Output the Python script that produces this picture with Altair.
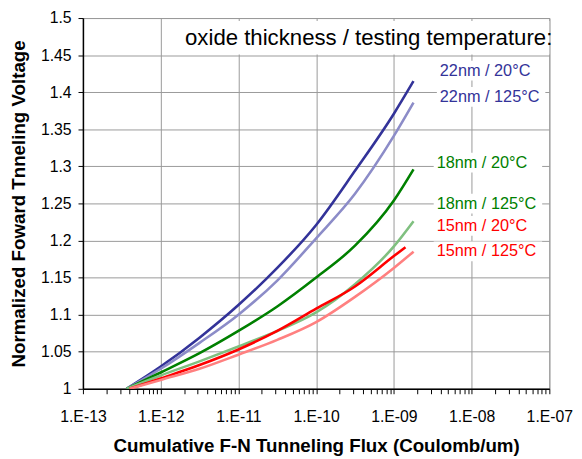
import altair as alt
import pandas as pd

series_names = ["22nm / 20°C", "22nm / 125°C", "18nm / 20°C", "18nm / 125°C", "15nm / 20°C", "15nm / 125°C"]
series_colors = ["#333399", "#8c8cc8", "#008000", "#80c080", "#ff0000", "#ff8080"]
label_colors = ["#333399", "#333399", "#008000", "#008000", "#ff0000", "#ff0000"]

flux_22_20 = [3.63e-13, 1e-12, 3.16e-12, 1e-11, 3.16e-11, 1e-10, 3.16e-10, 1e-9, 1.79e-9]
volt_22_20 = [1.0, 1.030, 1.069, 1.113, 1.163, 1.221, 1.294, 1.371, 1.415]

flux_22_125 = [3.63e-13, 1e-12, 3.16e-12, 1e-11, 3.16e-11, 1e-10, 3.16e-10, 1e-9, 1.79e-9]
volt_22_125 = [1.0, 1.027, 1.062, 1.100, 1.146, 1.203, 1.263, 1.341, 1.386]

flux_18_20 = [3.63e-13, 1e-12, 3.16e-12, 1e-11, 3.16e-11, 1e-10, 3.16e-10, 1e-9, 1.79e-9]
volt_18_20 = [1.0, 1.022, 1.048, 1.078, 1.111, 1.150, 1.193, 1.254, 1.296]

flux_18_125 = [3.63e-13, 1e-12, 3.16e-12, 1e-11, 3.16e-11, 1e-10, 3.16e-10, 1e-9, 1.79e-9]
volt_18_125 = [1.0, 1.018, 1.037, 1.057, 1.078, 1.103, 1.141, 1.192, 1.226]

flux_15_20 = [3.98e-13, 1e-12, 3.16e-12, 1e-11, 3.16e-11, 1e-10, 3.16e-10, 1e-9, 1.41e-9]
volt_15_20 = [1.0, 1.014, 1.032, 1.053, 1.078, 1.108, 1.138, 1.179, 1.191]

flux_15_125 = [3.98e-13, 1e-12, 3.16e-12, 1e-11, 3.16e-11, 1e-10, 3.16e-10, 1e-9, 1.79e-9]
volt_15_125 = [1.0, 1.012, 1.027, 1.046, 1.066, 1.090, 1.124, 1.163, 1.185]

label_flux = [3.9e-9, 3.9e-9, 3.55e-9, 3.55e-9, 3.55e-9, 3.55e-9]
label_volt = [1.4291, 1.3936, 1.3049, 1.2496, 1.2198, 1.1852]

header_text = "oxide thickness / testing temperature:"
header_flux = 1e-7
header_volt = 1.4734

y_ticks = [1.0, 1.05, 1.1, 1.15, 1.2, 1.25, 1.3, 1.35, 1.4, 1.45, 1.5]
x_ticks = [m * 10.0 ** e for e in range(-13, -7) for m in range(1, 10)] + [1e-7]

all_flux = [flux_22_20, flux_22_125, flux_18_20, flux_18_125, flux_15_20, flux_15_125]
all_volt = [volt_22_20, volt_22_125, volt_18_20, volt_18_125, volt_15_20, volt_15_125]

rows = []
for name, xs, ys in zip(series_names, all_flux, all_volt):
    for i, (a, b) in enumerate(zip(xs, ys)):
        rows.append({"series": name, "flux": a, "volt": b, "order": i})
df = pd.DataFrame(rows)

labels_df = pd.DataFrame({"label": series_names, "flux": label_flux, "volt": label_volt})
header_df = pd.DataFrame({"text": [header_text], "flux": [header_flux], "volt": [header_volt]})

FONT = "Liberation Sans"
is_decade = "abs(log(datum.value)/LN10 - round(log(datum.value)/LN10)) < 0.001"
label_expr = (
    "(" + is_decade + ") ? '1.E-' + (-round(log(datum.value)/LN10) < 10 ? '0' : '') + "
    "(-round(log(datum.value)/LN10)) : ''"
)

xscale = alt.Scale(type="log", domain=[1e-13, 1e-7], nice=False)
yscale = alt.Scale(domain=[1.0, 1.5], nice=False)
color = alt.Color("series:N", scale=alt.Scale(domain=series_names, range=series_colors), legend=None)
label_color = alt.Color("label:N", scale=alt.Scale(domain=series_names, range=label_colors), legend=None)

x_axis = alt.Axis(
    values=x_ticks,
    labelExpr=label_expr,
    labelOverlap=False,
    labelFlush=False,
    gridOpacity={"condition": {"test": is_decade, "value": 1}, "value": 0},
    gridColor="#999999",
    domainColor="#000000",
    domainWidth=1.5,
    tickColor="#000000",
    tickSize=5,
    labelFontSize=16,
    labelFont=FONT,
    labelColor="#000000",
    labelPadding=15,
    title="Cumulative F-N Tunneling Flux (Coulomb/um)",
    titleFont=FONT,
    titleFontSize=19,
    titleFontWeight="bold",
    titleColor="#000000",
    titlePadding=13,
)
y_axis = alt.Axis(
    values=y_ticks,
    labelExpr="format(datum.value, '.2~f')",
    labelOverlap=False,
    labelFlush=False,
    labelBound=False,
    gridColor="#999999",
    domainColor="#000000",
    domainWidth=1.5,
    tickColor="#000000",
    tickSize=5,
    labelFontSize=16,
    labelFont=FONT,
    labelColor="#000000",
    labelPadding=7,
    title="Normalized Foward Tnneling Voltage",
    titleFont=FONT,
    titleFontSize=19,
    titleFontWeight="bold",
    titleColor="#000000",
    titlePadding=12,
)

X = alt.X("flux:Q", scale=xscale, axis=x_axis)
Y = alt.Y("volt:Q", scale=yscale, axis=y_axis)

lines = alt.Chart(df).mark_line(strokeWidth=2.6, interpolate="monotone", clip=True).encode(
    x=X, y=Y, color=color, detail="series:N", order="order:Q",
)

label_bg = alt.Chart(labels_df).mark_rect(width=110, height=20, xOffset=52, color="white").encode(x=X, y=Y)

labels = alt.Chart(labels_df).mark_text(align="left", baseline="middle", fontSize=16.5, font=FONT).encode(
    x=X, y=Y, text="label:N", color=label_color,
)

header_bg = alt.Chart(header_df).mark_rect(width=380, height=34, xOffset=-190, color="white").encode(x=X, y=Y)

header = alt.Chart(header_df).mark_text(align="right", baseline="middle", fontSize=22.5, font=FONT, color="#000000", dx=3).encode(
    x=X, y=Y, text="text:N",
)

chart = alt.layer(lines, label_bg, labels, header_bg, header).resolve_scale(color="independent").properties(
    width=473,
    height=376,
    autosize=alt.AutoSizeParams(type="none"),
    padding={"left": 76, "top": 7, "right": 25, "bottom": 68},
    background="white",
).configure_view(stroke="#999999", strokeWidth=1)

chart.save("out.html", embed_options={"renderer": "svg", "actions": False})
